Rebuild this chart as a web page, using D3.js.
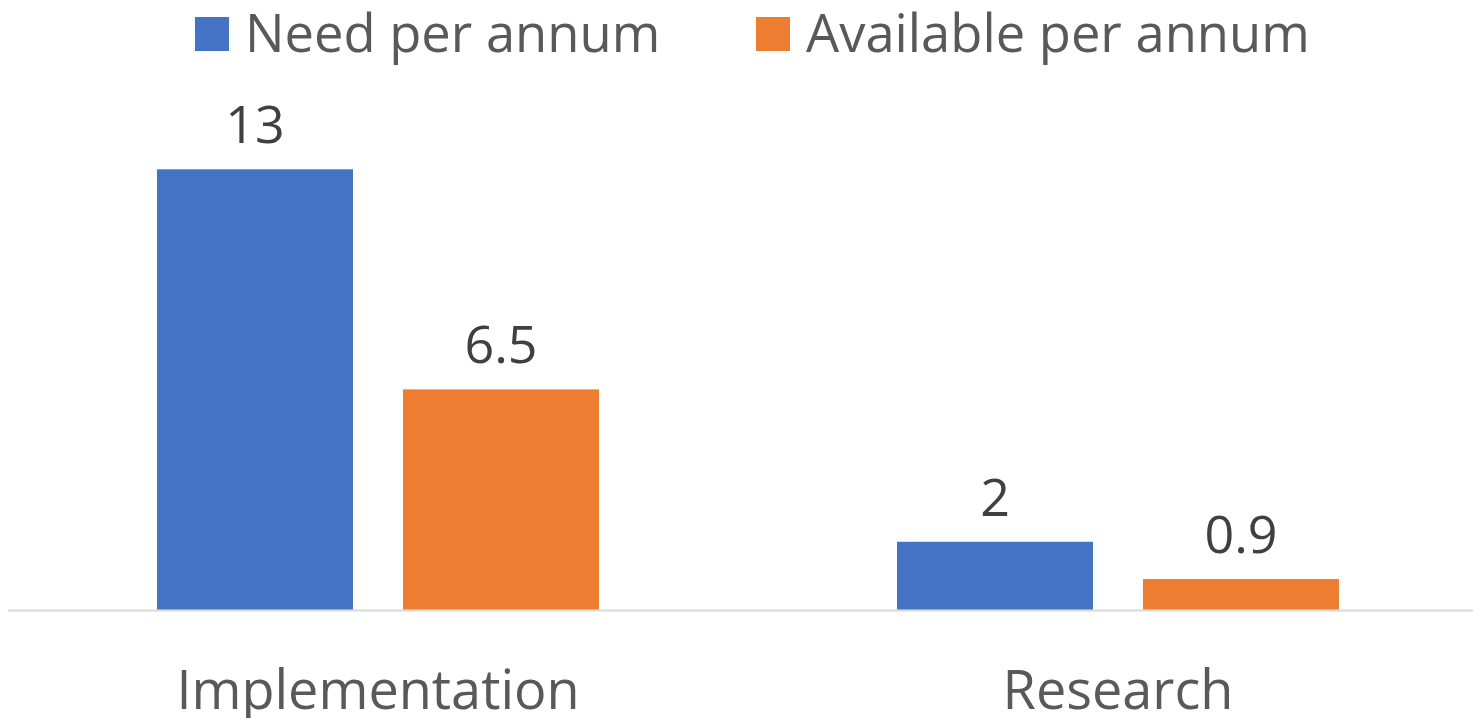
<!DOCTYPE html>
<html>
<head>
<meta charset="utf-8">
<script src="https://cdn.jsdelivr.net/npm/d3@7"></script>
<style>
  html, body { margin: 0; padding: 0; background: #ffffff; }
  svg { display: block; }
  text { font-family: "Open Sans", "Noto Sans", sans-serif; }
</style>
</head>
<body>
<svg id="chart" width="1473" height="718"></svg>
<script>
// Funding figures per annum
const categories = ["Implementation", "Research"];
const seriesNames = ["Need per annum", "Available per annum"];
const needValues = [13, 2];
const availableValues = [6.5, 0.9];
const valueLabels = [["13", "2"], ["6.5", "0.9"]];

const colors = ["#4472C4", "#ED7D31"];

const width = 1473, height = 718;
const baseline = 609.5;
const plotTop = 169.3;

const svg = d3.select("#chart");

const x0 = d3.scaleBand()
  .domain(categories)
  .range([8, 1488])
  .paddingInner(0)
  .paddingOuter(0);

const groupWidth = 442;
const x1 = d3.scaleBand()
  .domain(seriesNames)
  .range([0, groupWidth])
  .paddingInner(50 / 246)
  .paddingOuter(0);

const y = d3.scaleLinear()
  .domain([0, 13])
  .range([baseline, plotTop]);

const seriesValues = [needValues, availableValues];

// Axis baseline
svg.append("line")
  .attr("x1", 8).attr("x2", width)
  .attr("y1", baseline + 1).attr("y2", baseline + 1)
  .attr("stroke", "#d9d9d9")
  .attr("stroke-width", 2);

// Bars and value labels
categories.forEach((cat, ci) => {
  const gx = x0(cat) + x0.bandwidth() / 2 - groupWidth / 2;
  seriesNames.forEach((s, si) => {
    const v = seriesValues[si][ci];
    const bx = gx + x1(s);
    svg.append("rect")
      .attr("x", bx)
      .attr("y", y(v))
      .attr("width", x1.bandwidth())
      .attr("height", baseline - y(v))
      .attr("fill", colors[si]);
    svg.append("text")
      .attr("x", bx + x1.bandwidth() / 2)
      .attr("y", y(v) - 26)
      .attr("text-anchor", "middle")
      .attr("font-size", 52)
      .attr("fill", "#404040")
      .text(valueLabels[si][ci]);
  });
});

// Category labels
svg.selectAll("text.cat")
  .data(categories)
  .enter().append("text")
  .attr("class", "cat")
  .attr("x", d => x0(d) + x0.bandwidth() / 2)
  .attr("y", 709)
  .attr("text-anchor", "middle")
  .attr("font-size", 54)
  .attr("fill", "#595959")
  .text(d => d);

// Legend
const legendItems = [
  { name: seriesNames[0], color: colors[0], x: 195 },
  { name: seriesNames[1], color: colors[1], x: 756 }
];
legendItems.forEach(item => {
  svg.append("rect")
    .attr("x", item.x).attr("y", 17)
    .attr("width", 34).attr("height", 34)
    .attr("fill", item.color);
  svg.append("text")
    .attr("x", item.x + 50)
    .attr("y", 52)
    .attr("font-size", 52.5)
    .attr("fill", "#595959")
    .text(item.name);
});
</script>
</body>
</html>
